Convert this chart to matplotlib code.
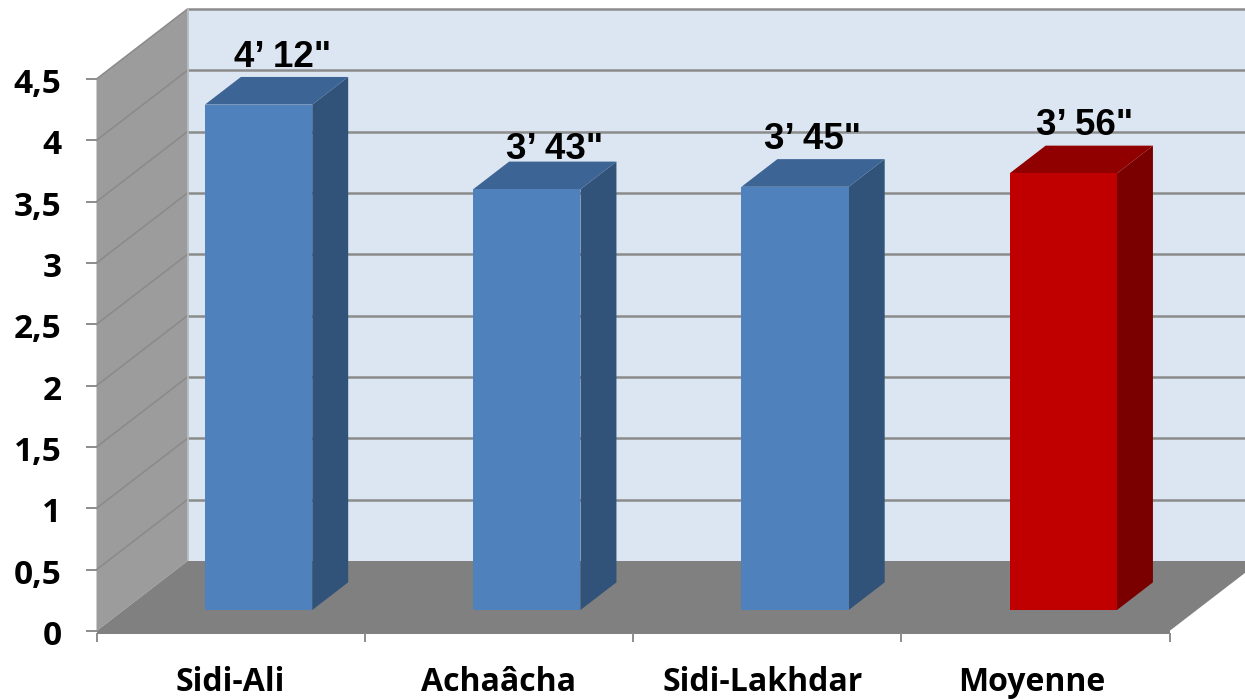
import matplotlib
matplotlib.use("Agg")
import matplotlib.pyplot as plt
from matplotlib.patches import Polygon

categories = ["Sidi-Ali", "Achaâcha", "Sidi-Lakhdar", "Moyenne"]
values = [4.12, 3.43, 3.45, 3.56]
value_labels = ["4’ 12\"", "3’ 43\"", "3’ 45\"", "3’ 56\""]
y_ticks = [0, 0.5, 1, 1.5, 2, 2.5, 3, 3.5, 4, 4.5]
y_tick_labels = ["0", "0,5", "1", "1,5", "2", "2,5", "3", "3,5", "4", "4,5"]

# oblique projection: category position, value, depth -> pixel
X0, Y0, CAT_W, UNIT_H, DEPTH_X, DEPTH_Y = 96.5, 631, 268.25, 122.67, 91, 70
def P(c, v, d=0.0):
    return (X0 + CAT_W * c + DEPTH_X * d, Y0 - UNIT_H * v - DEPTH_Y * d)

fig = plt.figure(figsize=(12.45, 7), dpi=100)
ax = fig.add_axes([0, 0, 1, 1])
ax.set_xlim(0, 1245); ax.set_ylim(700, 0); ax.axis("off")

n = len(categories)
vmax = y_ticks[-1]
GRID = "#8C8C8C"

def poly(pts, fc, z, ec="none", lw=0):
    ax.add_patch(Polygon(pts, closed=True, facecolor=fc, edgecolor=ec, linewidth=lw, zorder=z))

# back wall
poly([P(0, 0, 1), P(n, 0, 1), P(n, vmax, 1), P(0, vmax, 1)], "#DCE6F2", 1)
# left wall
poly([P(0, 0, 0), P(0, 0, 1), P(0, vmax, 1), P(0, vmax, 0)], "#9C9C9C", 2)
# floor
poly([P(0, 0, 0), P(n, 0, 0), P(n, 0, 1), P(0, 0, 1)], "#808080", 3)
x0, y0 = P(0, 0, 0); x1, y1 = P(n, 0, 0)
ax.fill_between([x0, x1], y0, y0 + 2.5, color="#808080", lw=0, zorder=3)

# gridlines on walls
for v in y_ticks[1:]:
    a, b, c = P(0, v, 0), P(0, v, 1), P(n, v, 1)
    ax.plot([b[0], c[0]], [b[1], c[1]], color=GRID, lw=1.8, zorder=1.5, solid_capstyle="butt")
    ax.plot([a[0], b[0]], [a[1], b[1]], color="#8A8A8A", lw=1.1, zorder=2.5)
a, b = P(0, 0, 1), P(0, vmax, 1)
ax.plot([a[0], b[0]], [a[1], b[1]], color="#B4B8BE", lw=1.2, zorder=2.6)

# axis ticks
for v in y_ticks:
    x, y = P(0, v, 0)
    ax.plot([x - 11, x], [y, y], color="#8C8C8C", lw=1.4, zorder=4, solid_capstyle="butt")
for i in range(n + 1):
    x, y = P(i, 0, 0)
    ax.plot([x, x], [y + 2, y + 11], color="#8C8C8C", lw=1.4, zorder=4, solid_capstyle="butt")

# bars
W0, W1, D0, D1 = 0.3025, 0.7025, 0.3, 0.695
palette = [("#4F81BD", "#3C6494", "#325379")] * 3 + [("#C00000", "#900000", "#7A0000")]
for i, (v, (front, top, side)) in enumerate(zip(values, palette)):
    l, r = i + W0, i + W1
    poly([P(r, 0, D0), P(r, 0, D1), P(r, v, D1), P(r, v, D0)], side, 5)
    poly([P(l, v, D0), P(r, v, D0), P(r, v, D1), P(l, v, D1)], top, 5)
    poly([P(l, 0, D0), P(r, 0, D0), P(r, v, D0), P(l, v, D0)], front, 6)

# value labels
lab_dx = [-11, -7, -18, -14]
lab_dy = [-10, -3, -10, -11]
for i, (v, t) in enumerate(zip(values, value_labels)):
    x, y = P(i + 0.5, v, D1)
    ax.text(x + lab_dx[i], y + lab_dy[i], t, ha="center", va="baseline", fontsize=26.5,
            fontweight="bold", family="Liberation Sans", color="black", zorder=8)

# axis labels
for v, t in zip(y_ticks, y_tick_labels):
    x, y = P(0, v, 0)
    ax.text(x - 35, y + 14, t, ha="right", va="baseline", fontsize=24,
            fontweight="bold", family="Open Sans", color="black", zorder=8)
cat_dx = [0, 0, -4, -4]
for i, t in enumerate(categories):
    x, y = P(i + 0.5, 0, 0)
    ax.text(x + cat_dx[i], 691, t, ha="center", va="baseline", fontsize=23,
            fontweight="bold", family="Open Sans", color="black", zorder=8)

fig.savefig("out.png", dpi=100)
